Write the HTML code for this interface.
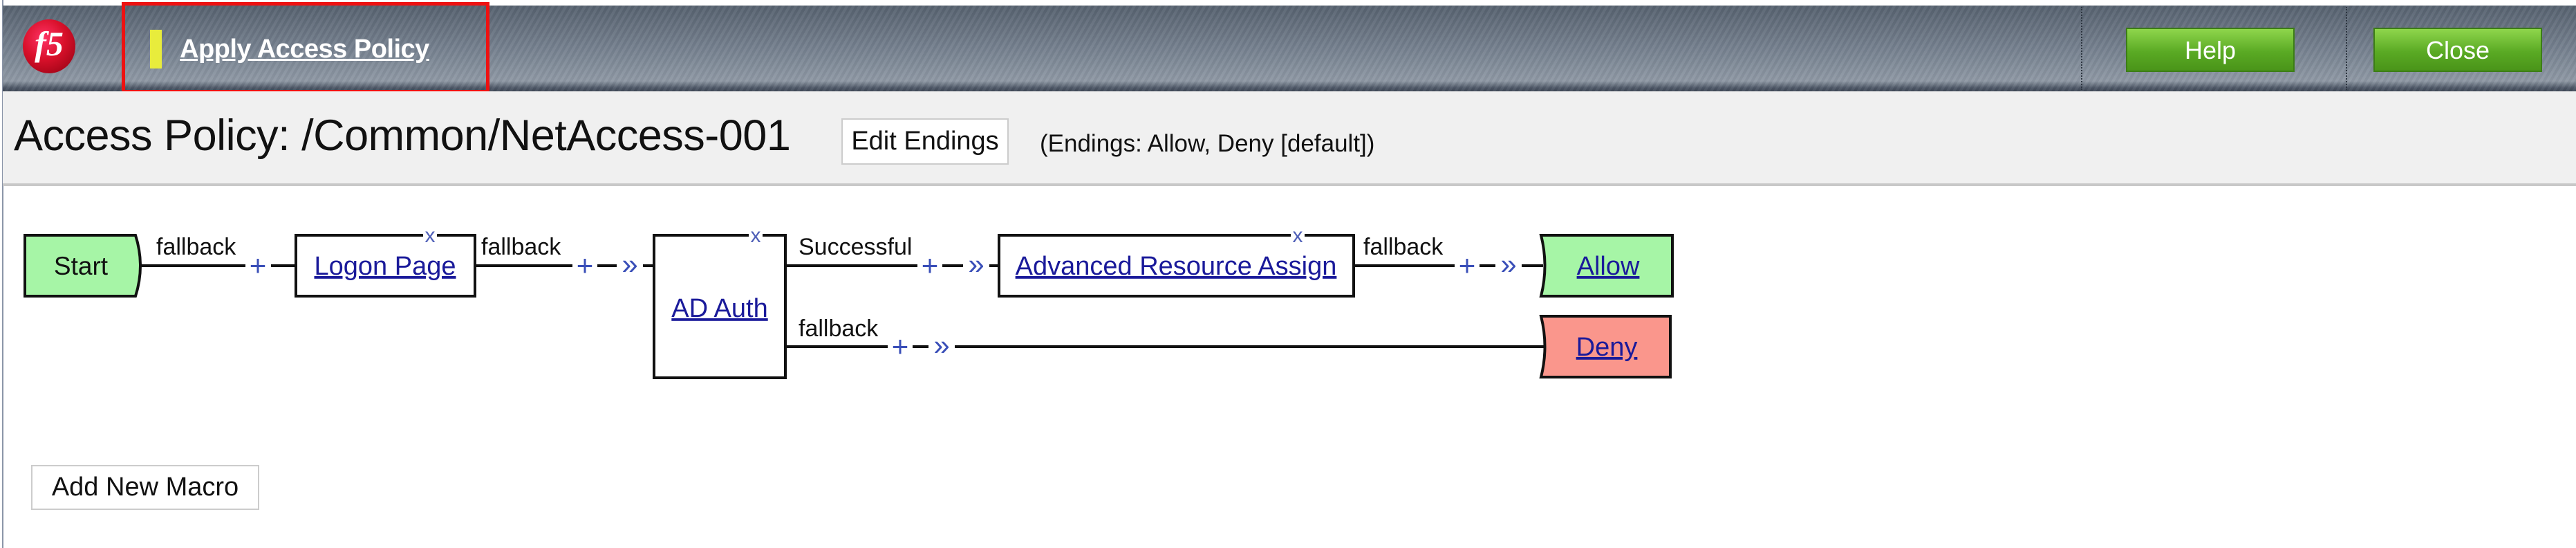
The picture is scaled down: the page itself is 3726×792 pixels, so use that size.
<!DOCTYPE html>
<html><head><meta charset="utf-8"><style>
html,body{margin:0;padding:0;width:3726px;height:792px;overflow:hidden;background:#fff;font-family:"Liberation Sans",sans-serif}
.hdr{position:absolute;left:4px;top:8px;width:3722px;height:124px;background:repeating-linear-gradient(120deg,rgba(255,255,255,0.05) 0 4px,rgba(0,0,0,0.03) 4px 8px),linear-gradient(#56616f,#7b8694 60%,#8e98a4 88%,#4c5665 96%,#3f4856)}
.btn{position:absolute;top:40px;height:64px;width:244px;border:2px solid #3c7d16;background:linear-gradient(#8fd64c,#5aaa24 55%,#4a9419);color:#fff;font-size:36px;text-align:center;line-height:62px;box-sizing:border-box}
.div{position:absolute;top:10px;height:120px;border-left:2px dotted #2d3540}
.bar{position:absolute;left:4px;top:132px;width:3722px;height:133px;background:#f0f0f0;border-bottom:4px solid #c8c8c8}
</style></head><body>
<div style="position:absolute;left:3px;top:0;width:2px;height:792px;background:#8b95a8"></div>
<div class="hdr"></div>
<div style="position:absolute;left:33px;top:28px;width:76px;height:78px;border-radius:50%;background:radial-gradient(circle at 40% 35%,#f36 0,#d8102a 45%,#8a0010 100%)"></div>
<div style="position:absolute;left:33px;top:34px;width:76px;text-align:center;color:#fff;font:bold italic 50px 'Liberation Serif',serif">f5</div>
<div style="position:absolute;left:176px;top:3px;width:532px;height:132px;border:5px solid #ee1111;box-sizing:border-box"></div>
<div style="position:absolute;left:217px;top:43px;width:17px;height:56px;background:#e8ec3c"></div>
<div style="position:absolute;left:260px;top:50px;color:#fff;font-weight:bold;font-size:38px;text-decoration:underline;letter-spacing:-0.5px">Apply Access Policy</div>
<div class="div" style="left:3010px"></div>
<div class="div" style="left:3393px"></div>
<div class="btn" style="left:3075px">Help</div>
<div class="btn" style="left:3433px">Close</div>
<div class="bar"></div>
<div style="position:absolute;left:20px;top:160px;font-size:63px;color:#111;letter-spacing:-0.5px">Access Policy: /Common/NetAccess-001</div>
<div style="position:absolute;left:1217px;top:171px;width:242px;height:67px;background:#fff;border:2px solid #ccc;box-sizing:border-box;font-size:38px;line-height:63px;text-align:center;color:#111">Edit Endings</div>
<div style="position:absolute;left:1504px;top:188px;font-size:35px;color:#111">(Endings: Allow, Deny [default])</div>
<div style="position:absolute;left:45px;top:672px;width:330px;height:65px;background:#fff;border:2px solid #ccc;box-sizing:border-box;font-size:38px;line-height:61px;text-align:center;color:#111">Add New Macro</div>
<svg width="3726" height="792" style="position:absolute;left:0;top:0" font-family="Liberation Sans, sans-serif">
<g stroke="#111" stroke-width="4" fill="none">
<line x1="202" y1="384" x2="355" y2="384"/><line x1="392" y1="384" x2="428" y2="384"/>
<line x1="687" y1="384" x2="828" y2="384"/><line x1="864" y1="384" x2="892" y2="384"/><line x1="930" y1="384" x2="946" y2="384"/>
<line x1="1136" y1="384" x2="1327" y2="384"/><line x1="1363" y1="384" x2="1393" y2="384"/><line x1="1431" y1="384" x2="1445" y2="384"/>
<line x1="1958" y1="384" x2="2104" y2="384"/><line x1="2140" y1="384" x2="2163" y2="384"/><line x1="2201" y1="384" x2="2232" y2="384"/>
<line x1="1136" y1="501" x2="1284" y2="501"/><line x1="1320" y1="501" x2="1343" y2="501"/><line x1="1381" y1="501" x2="2234" y2="501"/>
</g>
<path d="M36,340 L196,340 Q210,384 196,428 L36,428 Z" fill="#a6f5a6" stroke="#111" stroke-width="4"/>
<rect x="428" y="340" width="259" height="88" fill="#fff" stroke="#111" stroke-width="4"/>
<rect x="946" y="340" width="190" height="206" fill="#fff" stroke="#111" stroke-width="4"/>
<rect x="1445" y="340" width="513" height="88" fill="#fff" stroke="#111" stroke-width="4"/>
<path d="M2229,340 L2419,340 L2419,428 L2229,428 Q2240,384 2229,340 Z" fill="#a6f5a6" stroke="#111" stroke-width="4"/>
<path d="M2229,457 L2416,457 L2416,545 L2229,545 Q2240,501 2229,457 Z" fill="#fa968c" stroke="#111" stroke-width="4"/>
<g fill="#fff"><rect x="612" y="332" width="20" height="14"/><rect x="1083" y="332" width="20" height="14"/><rect x="1867" y="332" width="20" height="14"/></g>
<g fill="#5060b8" font-size="30" text-anchor="middle"><text x="622" y="350">x</text><text x="1093" y="350">x</text><text x="1877" y="350">x</text></g>
<g fill="#3a4fb8" font-size="42" text-anchor="middle">
<text x="373" y="398">+</text><text x="846" y="398">+</text><text x="1345" y="398">+</text><text x="2122" y="398">+</text><text x="1302" y="515">+</text>
<text x="911" y="396">»</text><text x="1412" y="396">»</text><text x="2182" y="396">»</text><text x="1362" y="513">»</text>
</g>
<g fill="#111" font-size="34">
<text x="226" y="368">fallback</text><text x="696" y="368">fallback</text><text x="1155" y="368">Successful</text><text x="1972" y="368">fallback</text><text x="1155" y="486">fallback</text>
</g>
<text x="117" y="397" font-size="37" fill="#111" text-anchor="middle">Start</text>
<g fill="#1a1a9a" font-size="38" text-anchor="middle" text-decoration="underline">
<text x="557" y="397">Logon Page</text><text x="1041" y="458">AD Auth</text><text x="1701" y="397">Advanced Resource Assign</text><text x="2326" y="397">Allow</text><text x="2324" y="514">Deny</text>
</g>
</svg>
</body></html>
